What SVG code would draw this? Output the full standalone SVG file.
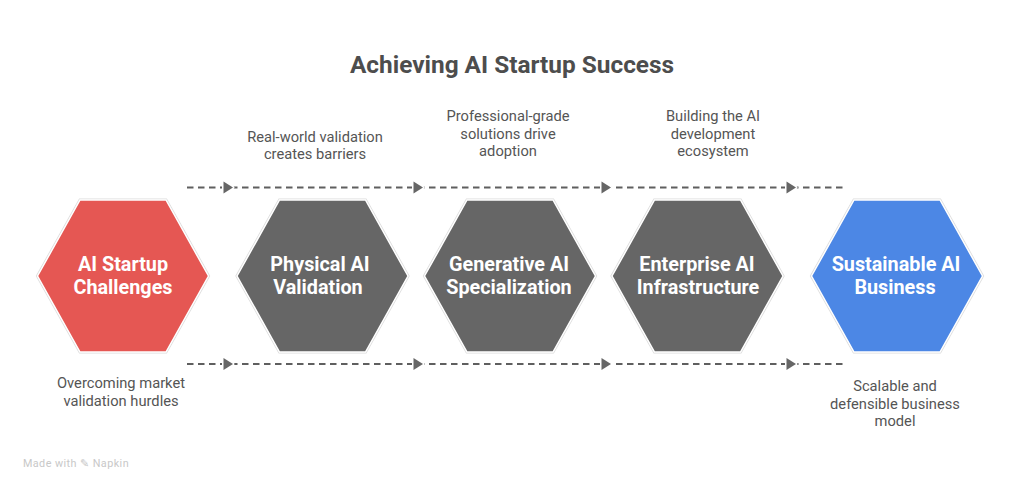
<svg xmlns="http://www.w3.org/2000/svg" width="1024" height="491" viewBox="0 0 1024 491">
<style>
text{font-family:Roboto,"Liberation Sans",sans-serif;text-anchor:middle}
.t{font-size:24.4px;font-weight:700;fill:#4d4d4d}
.n{font-size:19.8px;font-weight:700;fill:#fff}
.d{font-size:14.7px;fill:#555}
.h{stroke:#fff;stroke-width:1.5}
.o{fill:none;stroke:#dcdcdc;stroke-width:3}
.l{fill:none;stroke:#5f5f5f;stroke-width:1.8;stroke-dasharray:6.5 4.5}
.a{fill:#666;stroke:#fff;stroke-width:3;paint-order:stroke;stroke-linejoin:round}
.m{font-size:10.8px;fill:#c8c8c8;letter-spacing:.45px}
</style>
<defs>
<polygon id="hex" points="-85.500,0 -43,-76 43,-76 85.500,0 43,76 -43,76"/>
<polygon id="tri" points="-4.500,-6 5,0 -4.500,6"/>
</defs>
<rect width="1024" height="491" fill="#fff"/>
<text class="t" x="512" y="73">Achieving AI Startup Success</text>
<g id="connectors">
<path class="l" d="M187 187.500H846"/>
<path class="l" d="M187 364H846"/>
<use href="#tri" class="a" x="228" y="187.500"/>
<use href="#tri" class="a" x="418" y="187.500"/>
<use href="#tri" class="a" x="606" y="187.500"/>
<use href="#tri" class="a" x="791" y="187.500"/>
<use href="#tri" class="a" x="228" y="364"/>
<use href="#tri" class="a" x="418" y="364"/>
<use href="#tri" class="a" x="606" y="364"/>
<use href="#tri" class="a" x="791" y="364"/>
</g>
<g id="node-challenges"><use href="#hex" class="o" x="123" y="276"/><use href="#hex" class="h" x="123" y="276" fill="#e55753"/>
<text class="n" x="123" y="271">AI Startup</text><text class="n" x="123" y="294">Challenges</text></g>
<g id="node-physical"><use href="#hex" class="o" x="322.500" y="276"/><use href="#hex" class="h" x="322.500" y="276" fill="#666"/>
<text class="n" x="320" y="271">Physical AI</text><text class="n" x="318" y="294">Validation</text></g>
<g id="node-generative"><use href="#hex" class="o" x="510" y="276"/><use href="#hex" class="h" x="510" y="276" fill="#666"/>
<text class="n" x="509" y="271">Generative AI</text><text class="n" x="509" y="294">Specialization</text></g>
<g id="node-enterprise"><use href="#hex" class="o" x="697.500" y="276"/><use href="#hex" class="h" x="697.500" y="276" fill="#666"/>
<text class="n" x="697" y="271">Enterprise AI</text><text class="n" x="698" y="294">Infrastructure</text></g>
<g id="node-sustainable"><use href="#hex" class="o" x="897" y="276"/><use href="#hex" class="h" x="897" y="276" fill="#4c87e5"/>
<text class="n" x="896" y="271">Sustainable AI</text><text class="n" x="895" y="294">Business</text></g>
<g id="labels">
<text class="d" x="315" y="142">Real-world validation</text><text class="d" x="315" y="159">creates barriers</text>
<text class="d" x="508" y="121">Professional-grade</text><text class="d" x="508" y="139">solutions drive</text><text class="d" x="508" y="156">adoption</text>
<text class="d" x="713" y="121">Building the AI</text><text class="d" x="713" y="139">development</text><text class="d" x="713" y="156">ecosystem</text>
<text class="d" x="121" y="388">Overcoming market</text><text class="d" x="121" y="406">validation hurdles</text>
<text class="d" x="895" y="391">Scalable and</text><text class="d" x="895" y="409">defensible business</text><text class="d" x="895" y="426">model</text>
</g>
<text class="m" x="76" y="467">Made with ✎ Napkin</text>
</svg>
